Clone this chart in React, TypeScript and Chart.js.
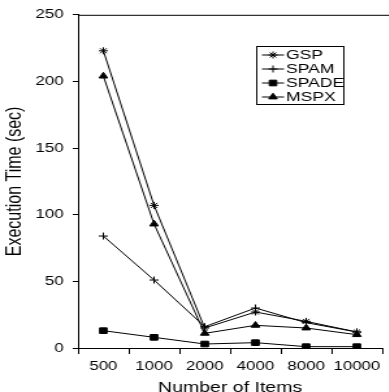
import { useEffect, useRef } from "react";
import { Chart, registerables } from "chart.js";
import { drawPoint } from "chart.js/helpers";

Chart.register(...registerables);

const categories = ["500", "1000", "2000", "4000", "8000", "10000"];
const gsp = [223, 107, 15, 27, 20, 12];
const spam = [84, 51, 16, 30, 19, 12];
const spade = [13, 8, 3, 4, 1, 1];
const mspx = [204, 93, 11, 17, 15, 10];
const seriesNames = ["GSP", "SPAM", "SPADE", "MSPX"];
const pointStyles = ["star", "cross", "rect", "triangle"];
const pointRadii = [3.5, 3.5, 4, 3.8];
const yMin = 0;
const yMax = 250;
const yStep = 50;

// The reference figure is horizontally stretched; draw narrower and stretch with CSS.
const STRETCH = 1.3;
const W = 299;
const H = 392;
const FONT = "'Liberation Sans', Arial, Helvetica, sans-serif";

const topBorder = {
  id: "topBorder",
  afterDraw(chart: any) {
    const { ctx, chartArea } = chart;
    ctx.save();
    ctx.strokeStyle = "#000";
    ctx.lineWidth = 1;
    ctx.beginPath();
    ctx.moveTo(chartArea.left, chartArea.top + 0.5);
    ctx.lineTo(chart.width, chartArea.top + 0.5);
    ctx.stroke();
    ctx.restore();
  },
};

const boxLegend = {
  id: "boxLegend",
  afterDraw(chart: any) {
    const { ctx } = chart;
    const x0 = 197.5, y0 = 46.5, w = 67, h = 58;
    ctx.save();
    ctx.strokeStyle = "#000";
    ctx.lineWidth = 1;
    ctx.strokeRect(x0, y0, w, h);
    ctx.font = `13.5px ${FONT}`;
    ctx.textBaseline = "middle";
    const rowH = 14;
    seriesNames.forEach((name, i) => {
      const cy = y0 + 8.5 + i * rowH;
      ctx.strokeStyle = "#000";
      ctx.beginPath();
      ctx.moveTo(x0 + 4, cy);
      ctx.lineTo(x0 + 21, cy);
      ctx.stroke();
      ctx.fillStyle = "#000";
      drawPoint(ctx, { pointStyle: pointStyles[i], radius: pointRadii[i], borderWidth: 1, rotation: 0 } as any, x0 + 12.5, cy);
      ctx.fillStyle = "#000";
      ctx.fillText(name, x0 + 22.5, cy + 0.5);
    });
    ctx.restore();
  },
};

export default function App() {
  const ref = useRef<HTMLCanvasElement>(null);
  useEffect(() => {
    if (!ref.current) return;
    const values = [gsp, spam, spade, mspx];
    const chart = new Chart(ref.current, {
      type: "line",
      data: {
        labels: categories,
        datasets: seriesNames.map((name, i) => ({
          label: name,
          data: values[i],
          borderColor: "#000",
          backgroundColor: "#000",
          borderWidth: 1,
          pointStyle: pointStyles[i] as any,
          pointRadius: pointRadii[i],
          pointBorderColor: "#000",
          pointBackgroundColor: "#000",
          pointBorderWidth: 1,
          tension: 0,
          fill: false,
        })),
      },
      options: {
        animation: false,
        responsive: false,
        devicePixelRatio: 1,
        layout: { padding: { top: 14, right: 0, left: 0, bottom: 0 } },
        plugins: { legend: { display: false }, tooltip: { enabled: false } },
        scales: {
          x: {
            type: "category",
            offset: true,
            afterFit(scale: any) {
              scale.height = 44;
            },
            grid: { display: true, drawOnChartArea: false, offset: true, tickLength: 6, color: "#000" },
            border: { color: "#000", width: 1 },
            ticks: { color: "#000", font: { family: FONT, size: 13 }, padding: 5, maxRotation: 0, autoSkip: false },
            title: { display: true, text: "Number of Items", color: "#000", font: { family: FONT, size: 15, lineHeight: 1 }, padding: { top: 0, bottom: -3 } },
          },
          y: {
            min: yMin,
            max: yMax,
            afterFit(scale: any) {
              scale.width = 60;
            },
            ticks: { stepSize: yStep, color: "#000", font: { family: FONT, size: 13 }, padding: 7 },
            grid: { display: true, drawOnChartArea: false, tickLength: 4, color: "#000" },
            border: { color: "#000", width: 1 },
            title: { display: true, text: "Execution Time (sec)", color: "#000", font: { family: FONT, size: 16 }, padding: { top: 2, bottom: 0 } },
          },
        },
      },
      plugins: [topBorder, boxLegend],
    });
    return () => chart.destroy();
  }, []);
  return (
    <div style={{ position: "absolute", left: 0, top: 0, width: 389, height: H, background: "#fff", overflow: "hidden" }}>
      <canvas
        ref={ref}
        width={W}
        height={H}
        style={{ display: "block", transform: `scaleX(${STRETCH})`, transformOrigin: "0 0" }}
      />
    </div>
  );
}
